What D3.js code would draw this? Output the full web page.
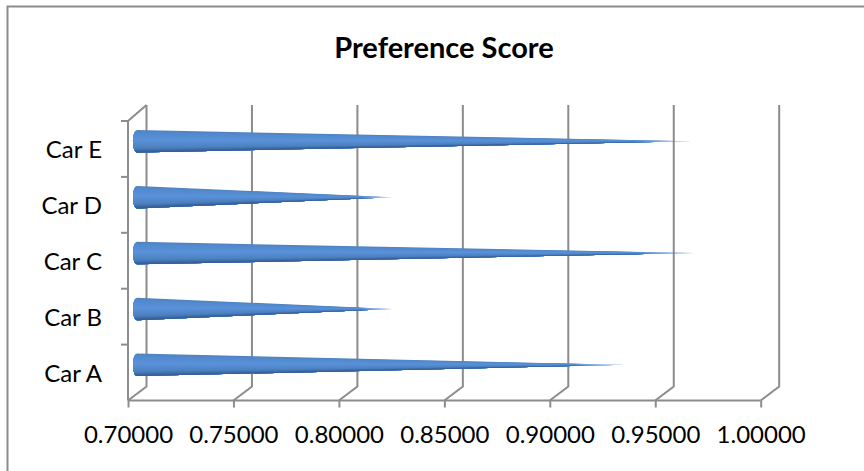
<!DOCTYPE html>
<html><head><meta charset="utf-8">
<script src="https://cdn.jsdelivr.net/npm/d3@7"></script>
<style>html,body{margin:0;padding:0;background:#fff}svg{display:block}text{font-family:Lato,"Noto Sans",sans-serif;fill:#000}</style>
</head><body><svg id="c" width="864" height="471"></svg>
<script>
const categories = ["Car A","Car B","Car C","Car D","Car E"];
const scores = [0.9305,0.8205,0.9635,0.8205,0.9625];
const xTicks = [0.70,0.75,0.80,0.85,0.90,0.95,1.00];
const title = "Preference Score";

const svg = d3.select("#c");
const grey = "#8c8c8c";
const x = d3.scaleLinear().domain([0.70,1.00]).range([128,760.7]);
const y = d3.scaleBand().domain(categories).range([400.5,121]);
const depthX = 18.5, depthY = 14;
const barDX = 9.5, barDY = -7.7, barThick = 22.5, capRx = 4, strips = 24;

svg.append("path").attr("d","M7.5,471V6.5H864").attr("fill","none").attr("stroke",grey).attr("stroke-width",2);

svg.append("text").attr("x",444).attr("y",57.5).attr("text-anchor","middle")
  .attr("font-size",29).attr("font-weight",700).text(title);

// back wall gridlines with floor connectors
const wall = svg.append("g").attr("fill","none").attr("stroke",grey).attr("stroke-width",2);
xTicks.forEach(t=>{
  const px=x(t);
  wall.append("path").attr("d",`M${px},400.5L${px+depthX},${400.5-depthY}L${px+depthX},105`);
});
wall.append("path").attr("d",`M${x(0.70)},121L${x(0.70)+depthX},105`);
wall.append("path").attr("d",`M${x(0.70)},121V400.5`);

// front axes
const xAxis = d3.axisBottom(x).tickValues(xTicks).tickFormat(d3.format(".5f")).tickSize(7).tickPadding(18);
const gx = svg.append("g").attr("transform","translate(0,400.5)").call(xAxis);
gx.selectAll("line,path").attr("stroke",grey).attr("stroke-width",2);
gx.selectAll("text").attr("font-size",24).attr("font-family",'Lato,"Noto Sans",sans-serif');
gx.select(".domain").attr("d",`M${x(0.70)},0H${x(1.0)}`);

const yAxis = d3.axisLeft(y).tickSize(0).tickPadding(26);
const gy = svg.append("g").attr("transform",`translate(${x(0.70)},0)`).call(yAxis);
gy.select(".domain").remove();
gy.selectAll("text").attr("font-size",24).attr("font-family",'Lato,"Noto Sans",sans-serif').attr("dy","0.38em");
const yEdges = categories.map(c=>y(c)).concat([y.range()[1]]);
svg.append("g").selectAll("line").data(yEdges).join("line")
  .attr("x1",x(0.70)-7).attr("x2",x(0.70)).attr("y1",d=>d).attr("y2",d=>d)
  .attr("stroke",grey).attr("stroke-width",2);

// cones
const shade = d3.scaleLinear().domain([0,0.1,0.45,0.8,1])
  .range(["#4f80bd","#5289cd","#5a92da","#4d80c0","#315a90"]);
const defs = svg.append("defs");
categories.forEach((c,i)=>{
  const tip = x(scores[i])+barDX;
  const x0 = x(0.70)+5;
  const cy = y(c)+y.bandwidth()/2+barDY;
  const fadeId = "fade"+i, maskId="mask"+i;
  const lg = defs.append("linearGradient").attr("id",fadeId).attr("gradientUnits","userSpaceOnUse")
    .attr("x1",tip-Math.max(30,(tip-x0)*0.1)).attr("x2",tip).attr("y1",0).attr("y2",0);
  lg.append("stop").attr("offset",0).attr("stop-color","#fff");
  lg.append("stop").attr("offset",1).attr("stop-color","#fff").attr("stop-opacity",0.15);
  defs.append("mask").attr("id",maskId).attr("maskUnits","userSpaceOnUse")
    .attr("x",0).attr("y",0).attr("width",864).attr("height",471)
    .append("rect").attr("width",864).attr("height",471).attr("fill",`url(#${fadeId})`);
  const g = svg.append("g").attr("mask",`url(#${maskId})`);
  const edgeX = u => x0 + capRx*(1-Math.sqrt(Math.max(0,1-(2*u-1)*(2*u-1))));
  const edgeY = u => cy - barThick/2 + barThick*u;
  d3.range(strips).forEach(s=>{
    const pts = d3.range(s, strips+1).map(k=>[edgeX(k/strips),edgeY(k/strips)]);
    pts.push([tip,cy]);
    g.append("path").attr("d",d3.line()(pts)+"Z").attr("fill",shade((s+0.5)/strips));
  });
});
</script></body></html>
